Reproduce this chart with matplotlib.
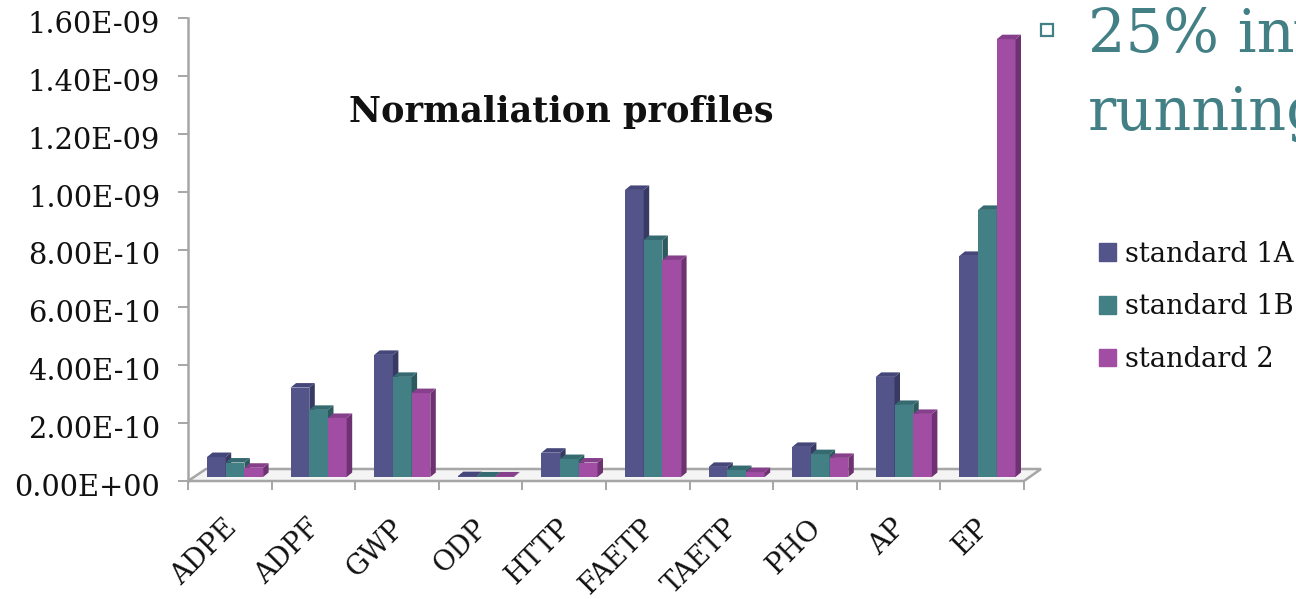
#!/usr/bin/env python3
# -*- coding: utf-8 -*-
# plot.py - normalisation profiles, fake 3D bars

import numpy as np
import matplotlib
matplotlib.use("Agg")
import matplotlib.pyplot as plt
from matplotlib.patches import Polygon, Patch, Rectangle
from matplotlib.transforms import ScaledTranslation

categories = ["ADPE", "ADPF", "GWP", "ODP", "HTTP", "FAETP", "TAETP", "PHO", "AP", "EP"]
series_names = ["standard 1A", "standard 1B", "standard 2"]
standard_1a = [0.69e-10, 3.09e-10, 4.22e-10, 0.03e-10, 0.84e-10, 9.92e-10, 0.35e-10, 1.04e-10, 3.46e-10, 7.64e-10]
standard_1b = [0.50e-10, 2.32e-10, 3.46e-10, 0.02e-10, 0.62e-10, 8.19e-10, 0.24e-10, 0.79e-10, 2.49e-10, 9.23e-10]
standard_2 = [0.32e-10, 2.04e-10, 2.90e-10, 0.02e-10, 0.50e-10, 7.50e-10, 0.17e-10, 0.66e-10, 2.18e-10, 15.13e-10]
yticks = [0, 2e-10, 4e-10, 6e-10, 8e-10, 1e-9, 1.2e-9, 1.4e-9, 1.6e-9]
ylabels = ["0.00E+00", "2.00E-10", "4.00E-10", "6.00E-10", "8.00E-10", "1.00E-09", "1.20E-09", "1.40E-09", "1.60E-09"]

front = ["#53548A", "#438086", "#A04DA3"]
side = ["#393A63", "#2C5A5E", "#6E3272"]
top = ["#45467A", "#356B70", "#863F8A"]
gray = "#A6A6A6"
teal = "#438086"
W, H = 1296, 599

plt.rcParams["font.family"] = ["DejaVu Serif"]

fig = plt.figure(figsize=(W / 100, H / 100), dpi=100)
ax = fig.add_axes([188 / W, 1 - 481 / H, (1024 - 188) / W, (481 - 18) / H])
ax.set_xlim(0, len(categories))
ax.set_ylim(0, 1.6e-9)

# pixel -> data sizes
px_x = len(categories) / (1024 - 188)
px_y = 1.6e-9 / (481 - 18)
dx, dy = 5.5 * px_x, 4.5 * px_y
base = 4 * px_y
bw = 18.7 * px_x
start = 19 * px_x

# floor
ax.add_patch(Polygon([(0, 0), (10, 0), (10 + 17 * px_x, 12 * px_y), (18 * px_x, 12 * px_y)],
                     closed=True, fc="#F4F4F4", ec=gray, lw=1.8, clip_on=False, zorder=1))

for i, vals in enumerate([standard_1a, standard_1b, standard_2]):
    xs = np.arange(len(categories)) + start + i * bw
    bars = ax.bar(xs, vals, bw, bottom=base, align="edge", color=front[i], zorder=3 + i)
    for b in bars:
        x0, x1 = b.get_x(), b.get_x() + b.get_width()
        y0, y1 = b.get_y(), b.get_y() + b.get_height()
        ax.add_patch(Polygon([(x1, y0), (x1 + dx, y0 + dy), (x1 + dx, y1 + dy), (x1, y1)],
                             closed=True, fc=side[i], ec="none", zorder=3 + i))
        ax.add_patch(Polygon([(x0, y1), (x0 + dx, y1 + dy), (x1 + dx, y1 + dy), (x1, y1)],
                             closed=True, fc=top[i], ec="none", zorder=3 + i))

for s in ["top", "right", "bottom"]:
    ax.spines[s].set_visible(False)
ax.spines["left"].set_color(gray)
ax.spines["left"].set_linewidth(1.8)

ax.set_yticks(yticks)
ax.set_yticklabels(ylabels, fontsize=20.8, color="#111111")
ax.tick_params(axis="y", length=7, width=1.4, color=gray, pad=13)
shift = ScaledTranslation(0, -4 / 100, fig.dpi_scale_trans)
for lab in ax.get_yticklabels():
    lab.set_transform(lab.get_transform() + shift)

ax.set_xticks(np.arange(len(categories) + 1))
ax.set_xticklabels([])
ax.tick_params(axis="x", which="major", length=6.5, width=1.4, color=gray)
ax.set_xticks(np.arange(len(categories)) + 0.5, minor=True)
ax.set_xticklabels(categories, minor=True, rotation=45, ha="right", va="top",
                   rotation_mode="anchor", fontsize=19.8, color="#111111")
ax.tick_params(axis="x", which="minor", length=0, pad=24)
shift_x = ScaledTranslation(-7 / 100, 0, fig.dpi_scale_trans)
for lab in ax.get_xticklabels(minor=True):
    lab.set_transform(lab.get_transform() + shift_x)

fig.text(561 / W, 1 - 112 / H, "Normaliation profiles", ha="center", va="center",
         fontsize=25.3, fontweight="bold", color="#111111")

# right hand slide text, cut by the edge
fig.add_artist(Rectangle((1041 / W, 1 - 36 / H), 12 / W, 12 / H, transform=fig.transFigure,
                         fc="white", ec=teal, lw=1.6))
fig.text(1088 / W, 1 - 52 / H, "25% inv", ha="left", va="baseline", fontsize=42.5, color=teal)
fig.text(1088 / W, 1 - 130 / H, "running", ha="left", va="baseline", fontsize=42.5, color=teal)

handles = [Patch(color=c) for c in front]
fig.legend(handles, series_names, loc="upper left", bbox_to_anchor=(1077 / W, 1 - 219 / H),
           frameon=False, fontsize=19.6, handlelength=0.62, handleheight=0.62,
           handletextpad=0.33, labelspacing=0.94, borderpad=0.3, labelcolor="#111111")

fig.savefig("out.png", dpi=100)
